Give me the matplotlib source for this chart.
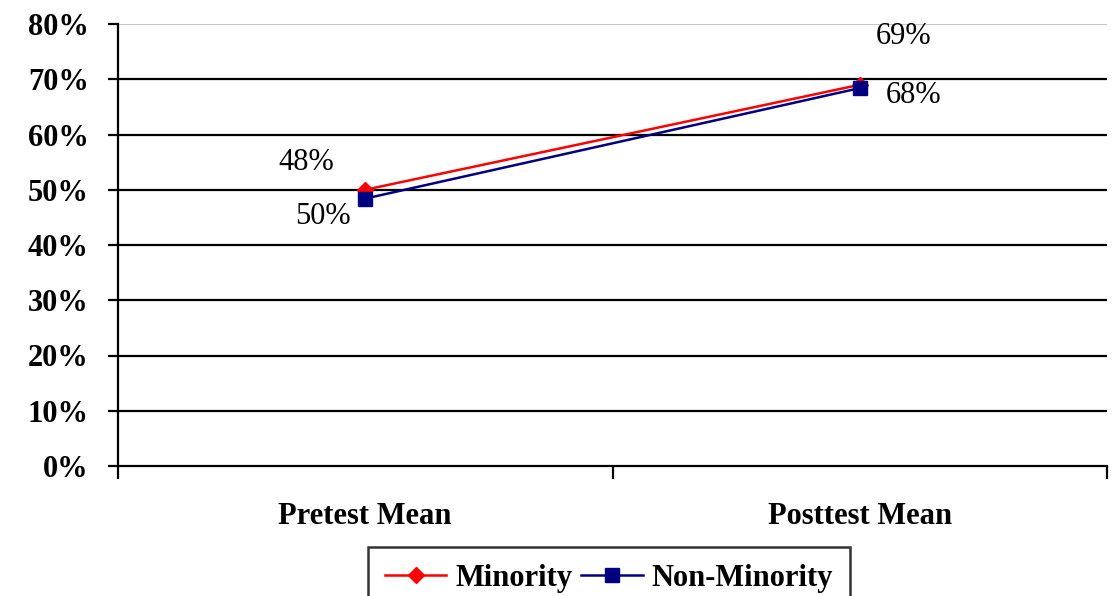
import matplotlib.pyplot as plt
from matplotlib.ticker import FuncFormatter

# data
categories = ['Pretest Mean', 'Posttest Mean']
minority = [50.0, 69.0]
non_minority = [48.4, 68.4]
# data labels as printed on the chart
minority_labels = ['48%', '69%']
non_minority_labels = ['50%', '68%']
yticks = [0, 10, 20, 30, 40, 50, 60, 70, 80]

plt.rcParams['font.family'] = ['Liberation Serif', 'DejaVu Serif']

fig = plt.figure(figsize=(11.14, 5.96), dpi=100)
ax = fig.add_axes([118 / 1114, 130 / 596, 989 / 1114, 442 / 596])

x = [0.5, 1.5]

# grid lines
for v in yticks[1:-1]:
    ax.axhline(v, color='black', lw=1.6, zorder=1)
ax.axhline(80, color='#c8c8c8', lw=1.5, zorder=1)

ax.plot(x, minority, color='#ff0000', lw=1.8, marker='D', markersize=8,
        markerfacecolor='#ff0000', markeredgecolor='#ff0000', label='Minority', zorder=3)
ax.plot(x, non_minority, color='#000080', lw=1.8, marker='s', markersize=10,
        markerfacecolor='#000080', markeredgecolor='#000080', label='Non-Minority', zorder=4)

# data labels (pixel offsets from the points)
min_offsets = [(-59, 27), (44, 48)]
non_offsets = [(-42, -18), (54, -7)]
for xi, yi, t, off in zip(x, minority, minority_labels, min_offsets):
    ax.annotate(t, (xi, yi), xytext=off, textcoords='offset pixels',
                ha='center', va='center', fontsize=22)
for xi, yi, t, off in zip(x, non_minority, non_minority_labels, non_offsets):
    ax.annotate(t, (xi, yi), xytext=off, textcoords='offset pixels',
                ha='center', va='center', fontsize=22)

ax.set_xlim(0, 2)
ax.set_ylim(0, 80)
ax.set_yticks(yticks)
ax.yaxis.set_major_formatter(FuncFormatter(lambda v, p: '%d%%' % v))
for lab in ax.get_yticklabels():
    lab.set_fontweight('bold')
    lab.set_fontsize(22)
ax.tick_params(axis='y', length=7, width=1.6, direction='out', pad=14)

ax.set_xticks([0, 1, 2])
ax.set_xticklabels([])
ax.set_xticks(x, minor=True)
ax.set_xticklabels(categories, minor=True, fontsize=22, fontweight='bold')
ax.tick_params(axis='x', which='major', length=9, width=1.6, direction='out')
ax.tick_params(axis='x', which='minor', length=0, pad=26)

for s in ['top', 'right']:
    ax.spines[s].set_visible(False)
for s in ['left', 'bottom']:
    ax.spines[s].set_linewidth(1.6)
    ax.spines[s].set_color('black')

leg = fig.legend(loc='upper center', bbox_to_anchor=(609 / 1114, 1 - 547 / 596),
                 ncol=2, frameon=True, fancybox=False, edgecolor='black',
                 prop={'weight': 'bold', 'size': 22}, handlelength=2.0,
                 columnspacing=0.3, handletextpad=0.3, borderpad=0.55,
                 borderaxespad=0)
leg.get_frame().set_linewidth(1.8)

plt.savefig('out.png', dpi=100)
